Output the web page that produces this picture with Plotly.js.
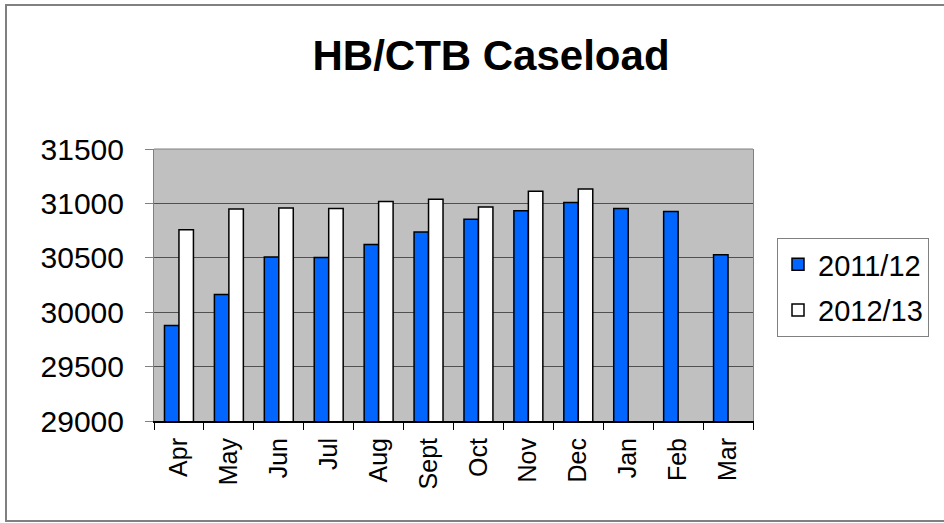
<!DOCTYPE html>
<html>
<head>
<meta charset="utf-8">
<script src="https://cdn.plot.ly/plotly-3.0.1.min.js"></script>
<style>
html,body{margin:0;padding:0;background:#fff;}
#chart{width:944px;height:523px;}
</style>
</head>
<body>
<div id="chart"></div>
<script>
const months = ["Apr","May","Jun","Jul","Aug","Sept","Oct","Nov","Dec","Jan","Feb","Mar"];
const series2011 = [29877,30163,30508,30502,30622,30738,30855,30932,31009,30954,30926,30529];
const series2012 = [30757,30948,30957,30954,31018,31037,30966,31111,31132,null,null,null];
const seriesNames = ["2011/12","2012/13"];
const yTicks = [29000,29500,30000,30500,31000,31500];

const W = 944, H = 523;
const M = {l:154, r:191, t:149, b:102};
const pw = W - M.l - M.r, ph = H - M.t - M.b;
const px = v => (v - M.l) / pw;
const py = v => (H - M.b - v) / ph;

const FONT = "Arial, 'Liberation Sans', sans-serif";

const traces = [
  {type:'bar', name:seriesNames[0], x:months, y:series2011, legendgroup:'a',
   marker:{color:'#0066ff', line:{color:'#000', width:1.5}}},
  {type:'bar', name:seriesNames[1], x:months, y:series2012, legendgroup:'b',
   marker:{color:'#ffffff', line:{color:'#000', width:1.5}}}
];

const layout = {
  width:W, height:H,
  margin:M,
  paper_bgcolor:'#fff',
  plot_bgcolor:'#c0c0c0',
  barmode:'group',
  bargap:0.42,
  bargroupgap:0,
  font:{family:FONT, color:'#000'},
  title:{text:'<b>HB/CTB Caseload</b>', font:{family:FONT, size:42, color:'#000'},
         xref:'container', yref:'container', x:491/W, y:1-55/H, xanchor:'center', yanchor:'middle'},
  xaxis:{type:'category', tickangle:-90, tickfont:{size:25, family:FONT},
         ticks:'outside', ticklen:7, tickcolor:'#000', tickson:'boundaries', ticklabelstandoff:5,
         showline:true, linecolor:'#000', linewidth:2, showgrid:false, fixedrange:true},
  yaxis:{range:[29000,31500], tickvals:yTicks, ticktext:yTicks.map(String),
         tickfont:{size:30, family:FONT}, ticks:'outside', ticklen:8, tickcolor:'#808080',
         ticklabelstandoff:15,
         showline:true, linecolor:'#808080', linewidth:1, mirror:true,
         gridcolor:'#505050', gridwidth:1, zeroline:false, fixedrange:true},
  legend:{x:px(777), y:py(238), xanchor:'left', yanchor:'top',
          bordercolor:'#808080', borderwidth:1, bgcolor:'#fff',
          font:{size:29, family:FONT}, traceorder:'grouped', tracegroupgap:5},
  showlegend:true,
  shapes:[
    {type:'rect', xref:'paper', yref:'paper', x0:px(6), x1:px(960), y0:py(521), y1:py(5),
     line:{color:'#808080', width:2}, fillcolor:'rgba(0,0,0,0)', layer:'below'},
    {type:'line', xref:'paper', yref:'paper', x0:0, x1:1, y0:1, y1:1,
     line:{color:'#808080', width:1}}
  ]
};

Plotly.newPlot('chart', traces, layout, {displayModeBar:false, staticPlot:true});
</script>
</body>
</html>
